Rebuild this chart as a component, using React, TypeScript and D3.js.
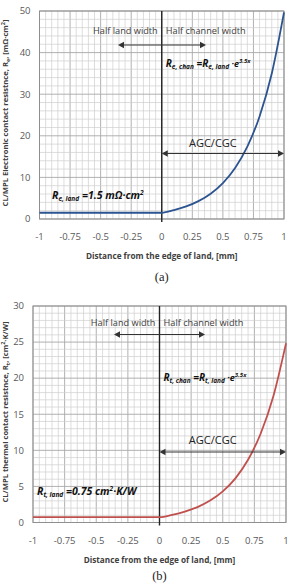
import React from "react";
import * as d3 from "d3";

// Distance from the edge of land, mm (land: -1..0, channel: 0..1)
const distance = [-1, 0, 0.1, 0.2, 0.3, 0.4, 0.5, 0.6, 0.7, 0.8, 0.9, 1.0];
// Electronic contact resistance, mΩ·cm²
const resElectronic = [1.5, 1.5, 2.13, 3.02, 4.29, 6.08, 8.63, 12.25, 17.38, 24.66, 34.99, 49.67];
// Thermal contact resistance, cm²·K/W
const resThermal = [0.75, 0.75, 1.06, 1.51, 2.14, 3.04, 4.31, 6.12, 8.69, 12.33, 17.49, 24.83];

const xTicks = [-1, -0.75, -0.5, -0.25, 0, 0.25, 0.5, 0.75, 1];
const xTickLabels = ["-1", "-0.75", "-0.5", "-0.25", "0", "0.25", "0.5", "0.75", "1"];
const yTicksA = [0, 10, 20, 30, 40, 50];
const yTicksB = [0, 5, 10, 15, 20, 25, 30];

const FONT = "'Open Sans', 'Liberation Sans', sans-serif";
const GREY = "#595959";

function Arrow({ x1, x2, y }: { x1: number; x2: number; y: number }) {
  const h = 3.2;
  return (
    <g stroke="#333" strokeWidth={1.1} fill="#333">
      <line x1={x1 + 2} x2={x2 - 2} y1={y} y2={y} />
      <path d={`M${x1},${y} L${x1 + 6},${y - h} L${x1 + 6},${y + h} Z`} stroke="none" />
      <path d={`M${x2},${y} L${x2 - 6},${y - h} L${x2 - 6},${y + h} Z`} stroke="none" />
    </g>
  );
}

function Panel(props: {
  top: number;
  bottom: number;
  left: number;
  right: number;
  yMax: number;
  yTicks: number[];
  yMinorStep: number;
  yMajorStep: number;
  values: number[];
  color: string;
  yTitle: React.ReactNode;
  yTitleCenter: number;
  sym: string;
  landLabel: React.ReactNode;
  landY: number;
  landX: number;
  halfY: number;
  arrowY: number;
  arrowX1: number;
  arrowX2: number;
  formulaY: number;
  agcY: number;
  agcArrowY: number;
  caption: string;
  captionY: number;
}) {
  const p = props;
  const x = d3.scaleLinear().domain([-1, 1]).range([p.left, p.right]);
  const y = d3.scaleLinear().domain([0, p.yMax]).range([p.bottom, p.top]);
  const minorX = d3.range(-1, 1.0001, 0.05);
  const minorY = d3.range(0, p.yMax + 0.0001, p.yMinorStep);
  const line = d3
    .line<number>()
    .x((_, i) => x(distance[i]))
    .y((v) => y(v))
    .curve(d3.curveMonotoneX);
  const isMajorX = (v: number) => Math.abs(v * 4 - Math.round(v * 4)) < 1e-6;
  const isMajorY = (v: number) => Math.abs(v / p.yMajorStep - Math.round(v / p.yMajorStep)) < 1e-6;

  return (
    <g>
      {/* grid */}
      {minorX.map((v, i) => (
        <line
          key={"gx" + i}
          x1={x(v)}
          x2={x(v)}
          y1={p.top}
          y2={p.bottom}
          stroke={isMajorX(v) ? "#a8a8a8" : "#cfcfcf"}
          strokeWidth={isMajorX(v) ? 0.9 : 0.7}
        />
      ))}
      {minorY.map((v, i) => (
        <line
          key={"gy" + i}
          x1={p.left}
          x2={p.right}
          y1={y(v)}
          y2={y(v)}
          stroke={isMajorY(v) ? "#a8a8a8" : "#cfcfcf"}
          strokeWidth={isMajorY(v) ? 0.9 : 0.7}
        />
      ))}
      <rect
        x={p.left}
        y={p.top}
        width={p.right - p.left}
        height={p.bottom - p.top}
        fill="none"
        stroke="#8f8f8f"
        strokeWidth={1}
      />
      {/* edge of land */}
      <line x1={x(0)} x2={x(0)} y1={p.top} y2={p.bottom + 3} stroke="#222" strokeWidth={1.4} />

      {/* y ticks */}
      {p.yTicks.map((t) => (
        <text
          key={"yt" + t}
          x={p.left - 9}
          y={y(t)}
          dy="0.35em"
          textAnchor="end"
          fontFamily={FONT}
          fontSize={9.5}
          fill={GREY}
        >
          {t}
        </text>
      ))}
      {/* x ticks */}
      {xTicks.map((t, i) => (
        <text
          key={"xt" + i}
          x={x(t)}
          y={p.bottom + 21}
          textAnchor="middle"
          fontFamily={FONT}
          fontSize={9.5}
          fill={GREY}
        >
          {xTickLabels[i]}
        </text>
      ))}
      <text
        x={x(0)}
        y={p.bottom + 40}
        textAnchor="middle"
        fontFamily={FONT}
        fontSize={8.2}
        fontWeight="bold"
        fill="#404040"
      >
        Distance from the edge of land, [mm]
      </text>
      <g transform={`translate(8,${p.yTitleCenter}) rotate(-90)`}>
        <text
          x={0}
          y={0}
          textAnchor="middle"
          fontFamily={FONT}
          fontSize={7.6}
          fontWeight="bold"
          fill="#404040"
        >
          {p.yTitle}
        </text>
      </g>

      {/* curve */}
      <path d={line(p.values) || ""} fill="none" stroke={p.color} strokeWidth={1.8} />

      {/* annotations */}
      <text
        x={x(0) - 4}
        y={p.halfY}
        textAnchor="end"
        fontFamily={FONT}
        fontSize={9.2}
        fill="#404040"
      >
        Half land width
      </text>
      <text x={x(0) + 4} y={p.halfY} fontFamily={FONT} fontSize={9.2} fill="#404040">
        Half channel width
      </text>
      <Arrow x1={p.arrowX1} x2={p.arrowX2} y={p.arrowY} />

      <text
        x={x(0) + 4}
        y={p.formulaY}
        fontFamily={FONT}
        fontSize={10}
        fontWeight="bold"
        fontStyle="italic"
        fill="#111"
      >
        R
        <tspan fontSize={6.5} dy={2}>
          {p.sym}, chan
        </tspan>
        <tspan dy={-2}> =R</tspan>
        <tspan fontSize={6.5} dy={2}>
          {p.sym}, land
        </tspan>
        <tspan dy={-2} fontSize={9}>
          {" "}·e
        </tspan>
        <tspan fontSize={6} dy={-4}>
          3.5x
        </tspan>
      </text>

      <text
        x={(x(0) + p.right) / 2 - 10}
        y={p.agcY}
        textAnchor="middle"
        fontFamily={FONT}
        fontSize={11}
        fill="#222"
      >
        AGC/CGC
      </text>
      <Arrow x1={x(0)} x2={p.right} y={p.agcArrowY} />

      <text
        x={p.landX}
        y={p.landY}
        fontFamily={FONT}
        fontSize={10.5}
        fontWeight="bold"
        fontStyle="italic"
        fill="#111"
      >
        {p.landLabel}
      </text>

      <text
        x={x(0)}
        y={p.captionY}
        textAnchor="middle"
        fontFamily="'Liberation Serif', 'DejaVu Serif', serif"
        fontSize={12.5}
        fill="#222"
      >
        {p.caption}
      </text>
    </g>
  );
}

export default function App() {
  return (
    <svg
      width={292}
      height={584}
      style={{ position: "absolute", left: 0, top: 0, background: "#fff" }}
    >
      <rect width={292} height={584} fill="#fff" />
      <Panel
        top={11}
        bottom={219}
        left={39.5}
        right={284}
        yMax={50}
        yTicks={yTicksA}
        yMinorStep={2}
        yMajorStep={10}
        values={resElectronic}
        color="#2C5490"
        yTitleCenter={113}
        yTitle={
          <>
            CL/MPL Electronic contact resistnce, R
            <tspan fontSize={5.5} dy={1.5}>e</tspan>
            <tspan dy={-1.5}>, [mΩ·cm</tspan>
            <tspan fontSize={5.5} dy={-3}>2</tspan>
            <tspan dy={3}>]</tspan>
          </>
        }
        sym="e"
        landX={52}
        landY={199}
        landLabel={
          <>
            R
            <tspan fontSize={6.5} dy={2}>e, land</tspan>
            <tspan dy={-2}> =1.5 mΩ·cm</tspan>
            <tspan fontSize={6.5} dy={-4}>2</tspan>
          </>
        }
        halfY={34}
        arrowY={45}
        arrowX1={118}
        arrowX2={206}
        formulaY={67}
        agcY={147}
        agcArrowY={153.5}
        caption="(a)"
        captionY={281}
      />
      <Panel
        top={306}
        bottom={522.5}
        left={33}
        right={286}
        yMax={30}
        yTicks={yTicksB}
        yMinorStep={1}
        yMajorStep={5}
        values={resThermal}
        color="#C0504D"
        yTitleCenter={412}
        yTitle={
          <>
            CL/MPL thermal contact resistnce, R
            <tspan fontSize={5.5} dy={1.5}>t</tspan>
            <tspan dy={-1.5}>, [cm</tspan>
            <tspan fontSize={5.5} dy={-3}>2</tspan>
            <tspan dy={3}>·K/W]</tspan>
          </>
        }
        sym="t"
        landX={37}
        landY={495}
        landLabel={
          <>
            R
            <tspan fontSize={6.5} dy={2}>t, land</tspan>
            <tspan dy={-2}> =0.75 cm</tspan>
            <tspan fontSize={6.5} dy={-4}>2</tspan>
            <tspan dy={4}>·K/W</tspan>
          </>
        }
        halfY={326}
        arrowY={334.5}
        arrowX1={114}
        arrowX2={205}
        formulaY={381}
        agcY={444}
        agcArrowY={452}
        caption="(b)"
        captionY={580}
      />
    </svg>
  );
}
